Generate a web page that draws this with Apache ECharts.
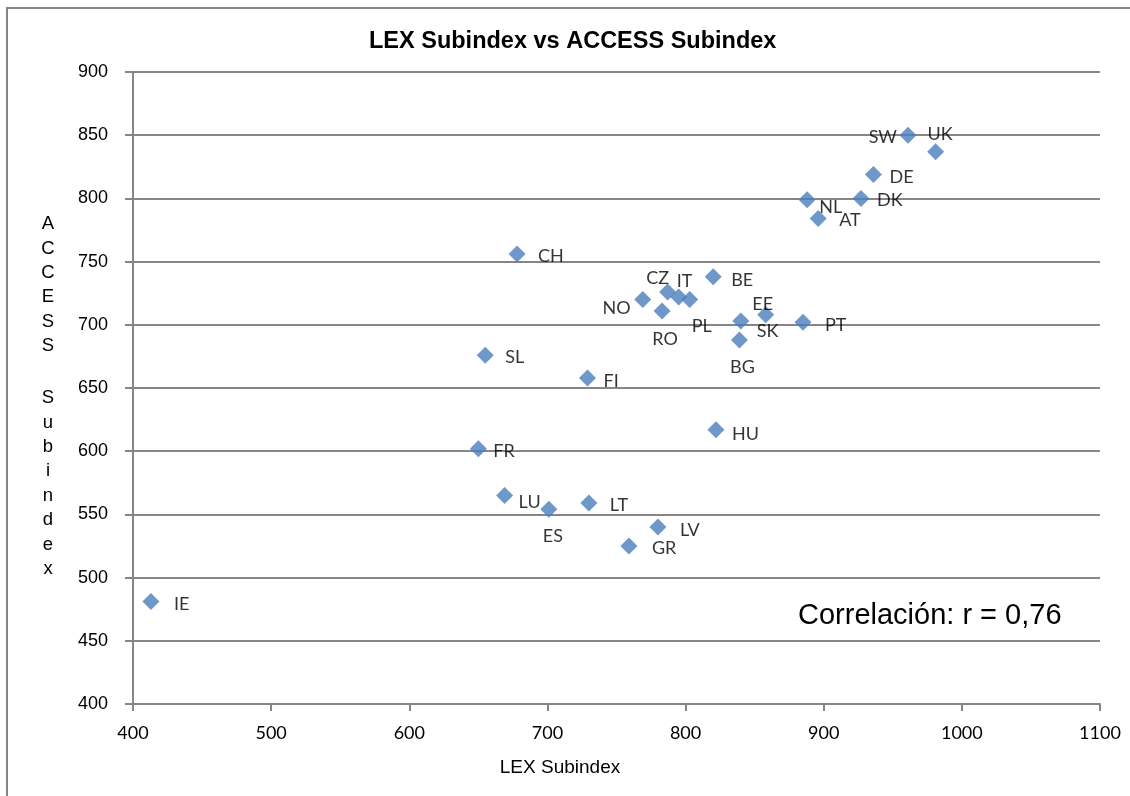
<!DOCTYPE html>
<html>
<head>
<meta charset="utf-8">
<script src="https://cdn.jsdelivr.net/npm/echarts@6/dist/echarts.min.js"></script>
<style>
html,body{margin:0;padding:0;background:#fff;}
#chart{width:1130px;height:796px;}
</style>
</head>
<body>
<div id="chart"></div>
<script>
// ---- Data ----
const countries    = ['IE','FR','SL','CH','LU','ES','LT','LV','GR','FI','NO','RO','CZ','IT','PL','BE','SK','BG','EE','PT','HU','SW','UK','DE','DK','NL','AT'];
const lexValues    = [413, 650, 655, 678, 669, 701, 730, 780, 759, 729, 769, 783, 787, 795, 803, 820, 840, 839, 858, 885, 822, 961, 981, 936, 927, 888, 896];
const accessValues = [481, 602, 676, 756, 565, 554, 559, 540, 525, 658, 720, 711, 726, 722, 720, 738, 703, 688, 708, 702, 617, 850, 837, 819, 800, 799, 784];
const xTicks = { min: 400, max: 1100, interval: 100 };
const yTicks = { min: 400, max: 900, interval: 50 };
const correlationText = 'Correlación: r = 0,76';

// ---- Label placement (style, not data): anchor, dx, dy from marker centre ----
const labelPlace = {
  IE:['l',23,3], CH:['l',21,2], FR:['l',15,3], LU:['l',14,7], LT:['l',21,2], SL:['l',20,2],
  FI:['l',16,3], HU:['l',16,4], LV:['l',22,3], GR:['l',23,2], ES:['c',4,27], NO:['r',-12,9],
  RO:['c',3,28], CZ:['c',-10,-14], IT:['c',6,-16], PL:['c',12,27], BE:['l',18,3], EE:['c',-3,-11],
  SK:['l',16,10], BG:['c',3,27], PT:['l',22,3], SW:['r',-11,2], UK:['l',-8,-17], DE:['l',16,3],
  DK:['l',16,2], NL:['l',12,8], AT:['l',21,2]
};
const SYM = 17;
const alignMap = { l:'left', c:'center', r:'right' };

const seriesData = countries.map((c, i) => {
  const p = labelPlace[c] || ['l', 16, 3];
  return {
    name: c,
    value: [lexValues[i], accessValues[i]],
    label: {
      position: [p[1] + SYM / 2, p[2] + SYM / 2],
      align: alignMap[p[0]],
      verticalAlign: 'middle'
    }
  };
});

const gray = '#868686';
const chart = echarts.init(document.getElementById('chart'), null, { renderer: 'canvas' });
chart.setOption({
  backgroundColor: '#ffffff',
  animation: false,
  title: {
    text: 'LEX Subindex vs ACCESS Subindex',
    left: 364, top: 25,
    textStyle: { fontFamily: 'Liberation Sans, Arial, sans-serif', fontWeight: 'bold', fontSize: 23.5, color: '#000' }
  },
  grid: { left: 133, right: 30, top: 72, bottom: 92, containLabel: false },
  xAxis: {
    type: 'value',
    min: xTicks.min, max: xTicks.max, interval: xTicks.interval,
    axisLine: { show: true, lineStyle: { color: gray, width: 2 } },
    axisTick: { show: true, length: 7, lineStyle: { color: gray, width: 2 } },
    splitLine: { show: false },
    axisLabel: { margin: 20, fontFamily: 'Lato, sans-serif', fontSize: 18, color: '#000',
                 formatter: v => String(v) }
  },
  yAxis: {
    type: 'value',
    min: yTicks.min, max: yTicks.max, interval: yTicks.interval,
    axisLine: { show: true, lineStyle: { color: gray, width: 2 } },
    axisTick: { show: true, length: 8, lineStyle: { color: gray, width: 2 } },
    splitLine: { show: true, lineStyle: { color: gray, width: 2 } },
    axisLabel: { margin: 25, fontFamily: 'Liberation Sans, Arial, sans-serif', fontSize: 18, color: '#000',
                 formatter: v => String(v) }
  },
  series: [{
    type: 'scatter',
    symbol: 'diamond',
    symbolSize: SYM,
    itemStyle: { color: '#4A7EBB' },
    label: {
      show: true,
      formatter: p => p.name,
      fontFamily: 'Lato, sans-serif',
      fontSize: 18,
      color: '#000'
    },
    data: seriesData
  }],
  graphic: [
    { type: 'rect', silent: true, z: -1,
      shape: { x: 7, y: 8, width: 1200, height: 900 },
      style: { fill: 'none', stroke: gray, lineWidth: 2 } },
    { type: 'text', silent: true,
      style: { text: 'A\nC\nC\nE\nS\nS', x: 48, y: 212, textAlign: 'center', textVerticalAlign: 'top',
               font: '18.5px "Liberation Sans", Arial, sans-serif', lineHeight: 24.4, fill: '#000' } },
    { type: 'text', silent: true,
      style: { text: 'S\nu\nb\ni\nn\nd\ne\nx', x: 48, y: 386, textAlign: 'center', textVerticalAlign: 'top',
               font: '18.5px "Liberation Sans", Arial, sans-serif', lineHeight: 24.4, fill: '#000' } },
    { type: 'text', silent: true,
      style: { text: 'LEX Subindex', x: 560, y: 768, textAlign: 'center', textVerticalAlign: 'middle',
               font: '19px "Liberation Sans", Arial, sans-serif', fill: '#000' } },
    { type: 'text', silent: true,
      style: { text: correlationText, x: 798, y: 616, textAlign: 'left', textVerticalAlign: 'middle',
               font: '29px "Liberation Sans", Arial, sans-serif', fill: '#000' } }
  ]
});
</script>
</body>
</html>
